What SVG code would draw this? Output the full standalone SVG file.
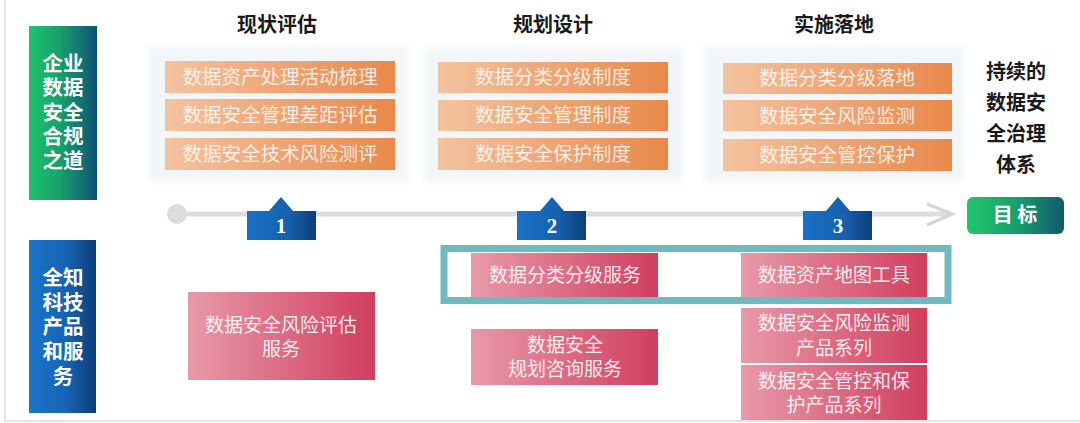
<svg xmlns="http://www.w3.org/2000/svg" width="1080" height="423" viewBox="0 0 1080 423">
<defs>
<linearGradient id="gOrange" x1="0" y1="0" x2="1" y2="0"><stop offset="0" stop-color="#f3c3a0"/><stop offset="1" stop-color="#e9884a"/></linearGradient>
<linearGradient id="gPink" x1="0" y1="0" x2="1" y2="0"><stop offset="0" stop-color="#e89aaa"/><stop offset="1" stop-color="#d03e5e"/></linearGradient>
<linearGradient id="gGreen" x1="0" y1="0" x2="1" y2="0"><stop offset="0" stop-color="#1ec46a"/><stop offset="0.45" stop-color="#17a06c"/><stop offset="1" stop-color="#0f5276"/></linearGradient>
<linearGradient id="gBlue" x1="0" y1="0" x2="1" y2="0"><stop offset="0" stop-color="#1a74ca"/><stop offset="0.55" stop-color="#1664b4"/><stop offset="1" stop-color="#0c3d76"/></linearGradient>
<linearGradient id="gTab" x1="0" y1="0" x2="1" y2="0"><stop offset="0" stop-color="#1a72c8"/><stop offset="0.6" stop-color="#1660ae"/><stop offset="1" stop-color="#0d3f78"/></linearGradient>
<linearGradient id="gGoal" x1="0" y1="0" x2="1" y2="0"><stop offset="0" stop-color="#20c66a"/><stop offset="0.5" stop-color="#18a06c"/><stop offset="1" stop-color="#135a70"/></linearGradient>
<filter id="soft" x="-5%" y="-5%" width="110%" height="110%"><feGaussianBlur stdDeviation="3"/></filter>
<style>
.title{font-family:"Noto Sans CJK SC","Liberation Serif",serif;font-size:20px;font-weight:700;fill:#1a1a1a;text-anchor:middle}
.bar{fill:url(#gOrange)}
.bt{font-family:"Noto Sans CJK SC",sans-serif;font-size:19.5px;fill:#ffffff;fill-opacity:0.82;text-anchor:middle}
.pink{fill:url(#gPink)}
.pt{font-family:"Noto Sans CJK SC",sans-serif;font-size:19px;fill:#ffffff;fill-opacity:0.9;text-anchor:middle}
.side{font-family:"Noto Sans CJK SC",sans-serif;font-size:20.5px;font-weight:700;fill:#ffffff;text-anchor:middle}
.num{font-family:"Liberation Serif",serif;font-size:21px;font-weight:700;fill:#ffffff;text-anchor:middle}
.goalt{font-family:"Noto Sans CJK SC",sans-serif;font-size:20px;font-weight:700;fill:#ffffff;text-anchor:middle}
.panel{fill:#f3f6f9}
</style>
</defs>
<rect width="1080" height="423" fill="#ffffff"/>
<line x1="5" y1="0" x2="5" y2="421" stroke="#e2e4e6" stroke-width="2"/>
<line x1="5" y1="421" x2="1080" y2="421" stroke="#e2e4e6" stroke-width="2"/>

<g id="side-top">
<rect x="29" y="26" width="68" height="174" fill="url(#gGreen)"/>
<text class="side" x="63" y="71"><tspan x="63">企业</tspan><tspan x="63" dy="24.3">数据</tspan><tspan x="63" dy="24.3">安全</tspan><tspan x="63" dy="24.3">合规</tspan><tspan x="63" dy="24.3">之道</tspan></text>
</g>
<g id="side-bottom">
<rect x="29" y="240" width="67" height="173" fill="url(#gBlue)"/>
<text class="side" x="63" y="285"><tspan x="63">全知</tspan><tspan x="63" dy="24.7">科技</tspan><tspan x="63" dy="24.7">产品</tspan><tspan x="63" dy="24.7">和服</tspan><tspan x="63" dy="24.7">务</tspan></text>
</g>

<g id="phase1">
<text class="title" x="277" y="32">现状评估</text>
<rect class="panel" x="148" y="46" width="261" height="136" filter="url(#soft)"/>
<rect class="bar" x="165" y="61" width="230" height="32"/>
<text class="bt" x="280" y="84">数据资产处理活动梳理</text>
<rect class="bar" x="165" y="99" width="230" height="32"/>
<text class="bt" x="280" y="122">数据安全管理差距评估</text>
<rect class="bar" x="165" y="138" width="230" height="32"/>
<text class="bt" x="280" y="161">数据安全技术风险测评</text>
</g>
<g id="phase2">
<text class="title" x="553" y="32">规划设计</text>
<rect class="panel" x="424" y="47" width="260" height="135" filter="url(#soft)"/>
<rect class="bar" x="438" y="62" width="230" height="31"/>
<text class="bt" x="553" y="84">数据分类分级制度</text>
<rect class="bar" x="438" y="100" width="230" height="31"/>
<text class="bt" x="553" y="122">数据安全管理制度</text>
<rect class="bar" x="438" y="138" width="230" height="32"/>
<text class="bt" x="553" y="161">数据安全保护制度</text>
</g>
<g id="phase3">
<text class="title" x="834" y="32">实施落地</text>
<rect class="panel" x="704" y="46" width="260" height="136" filter="url(#soft)"/>
<rect class="bar" x="723" y="63" width="229" height="31"/>
<text class="bt" x="837" y="85">数据分类分级落地</text>
<rect class="bar" x="723" y="100" width="229" height="31"/>
<text class="bt" x="837" y="123">数据安全风险监测</text>
<rect class="bar" x="723" y="139" width="229" height="32"/>
<text class="bt" x="837" y="162">数据安全管控保护</text>
</g>

<g id="goal-text">
<text class="title" x="1016" y="79"><tspan x="1016">持续的</tspan><tspan x="1016" dy="31">数据安</tspan><tspan x="1016" dy="31">全治理</tspan><tspan x="1016" dy="31">体系</tspan></text>
</g>

<g id="connectors">
<line x1="177" y1="214" x2="950" y2="214" stroke="#dcdcdc" stroke-width="5"/>
<circle cx="177" cy="214" r="10" fill="#dcdcdc"/>
<polyline points="927,204 952,214 927,225" fill="none" stroke="#d6d6d6" stroke-width="3.5" stroke-linejoin="miter"/>
</g>

<g id="tab1">
<polygon points="247,211 269,211 281,197 293,211 316,211 316,240 247,240" fill="url(#gTab)"/>
<text class="num" x="281" y="233">1</text>
</g>
<g id="tab2">
<polygon points="517,211 540,211 552,197 564,211 586,211 586,240 517,240" fill="url(#gTab)"/>
<text class="num" x="552" y="233">2</text>
</g>
<g id="tab3">
<polygon points="803,211 826,211 838,197 850,211 872,211 872,240 803,240" fill="url(#gTab)"/>
<text class="num" x="838" y="233">3</text>
</g>

<g id="goal">
<rect x="967" y="197" width="97" height="37" rx="6" fill="url(#gGoal)"/>
<text class="goalt" x="1015" y="222">目 标</text>
</g>

<g id="svc-risk">
<rect class="pink" x="188" y="292" width="187" height="88"/>
<text class="pt" x="281" y="332"><tspan x="281">数据安全风险评估</tspan><tspan x="281" dy="24">服务</tspan></text>
</g>
<g id="svc-classify">
<rect class="pink" x="471" y="253" width="187" height="44"/>
<text class="pt" x="565" y="282">数据分类分级服务</text>
</g>
<g id="svc-plan">
<rect class="pink" x="471" y="329" width="187" height="56"/>
<text class="pt" x="565" y="352"><tspan x="565">数据安全</tspan><tspan x="565" dy="24">规划咨询服务</tspan></text>
</g>
<g id="svc-map">
<rect class="pink" x="741" y="253" width="186" height="44"/>
<text class="pt" x="834" y="282">数据资产地图工具</text>
</g>
<g id="svc-monitor">
<rect class="pink" x="741" y="308" width="186" height="55"/>
<text class="pt" x="834" y="330"><tspan x="834">数据安全风险监测</tspan><tspan x="834" dy="25">产品系列</tspan></text>
</g>
<g id="svc-protect">
<rect class="pink" x="741" y="365" width="186" height="55"/>
<text class="pt" x="834" y="388"><tspan x="834">数据安全管控和保</tspan><tspan x="834" dy="24">护产品系列</tspan></text>
</g>

<g id="highlight">
<rect x="444" y="248.5" width="504" height="52" fill="none" stroke="#6fbac2" stroke-width="7"/>
</g>
</svg>
